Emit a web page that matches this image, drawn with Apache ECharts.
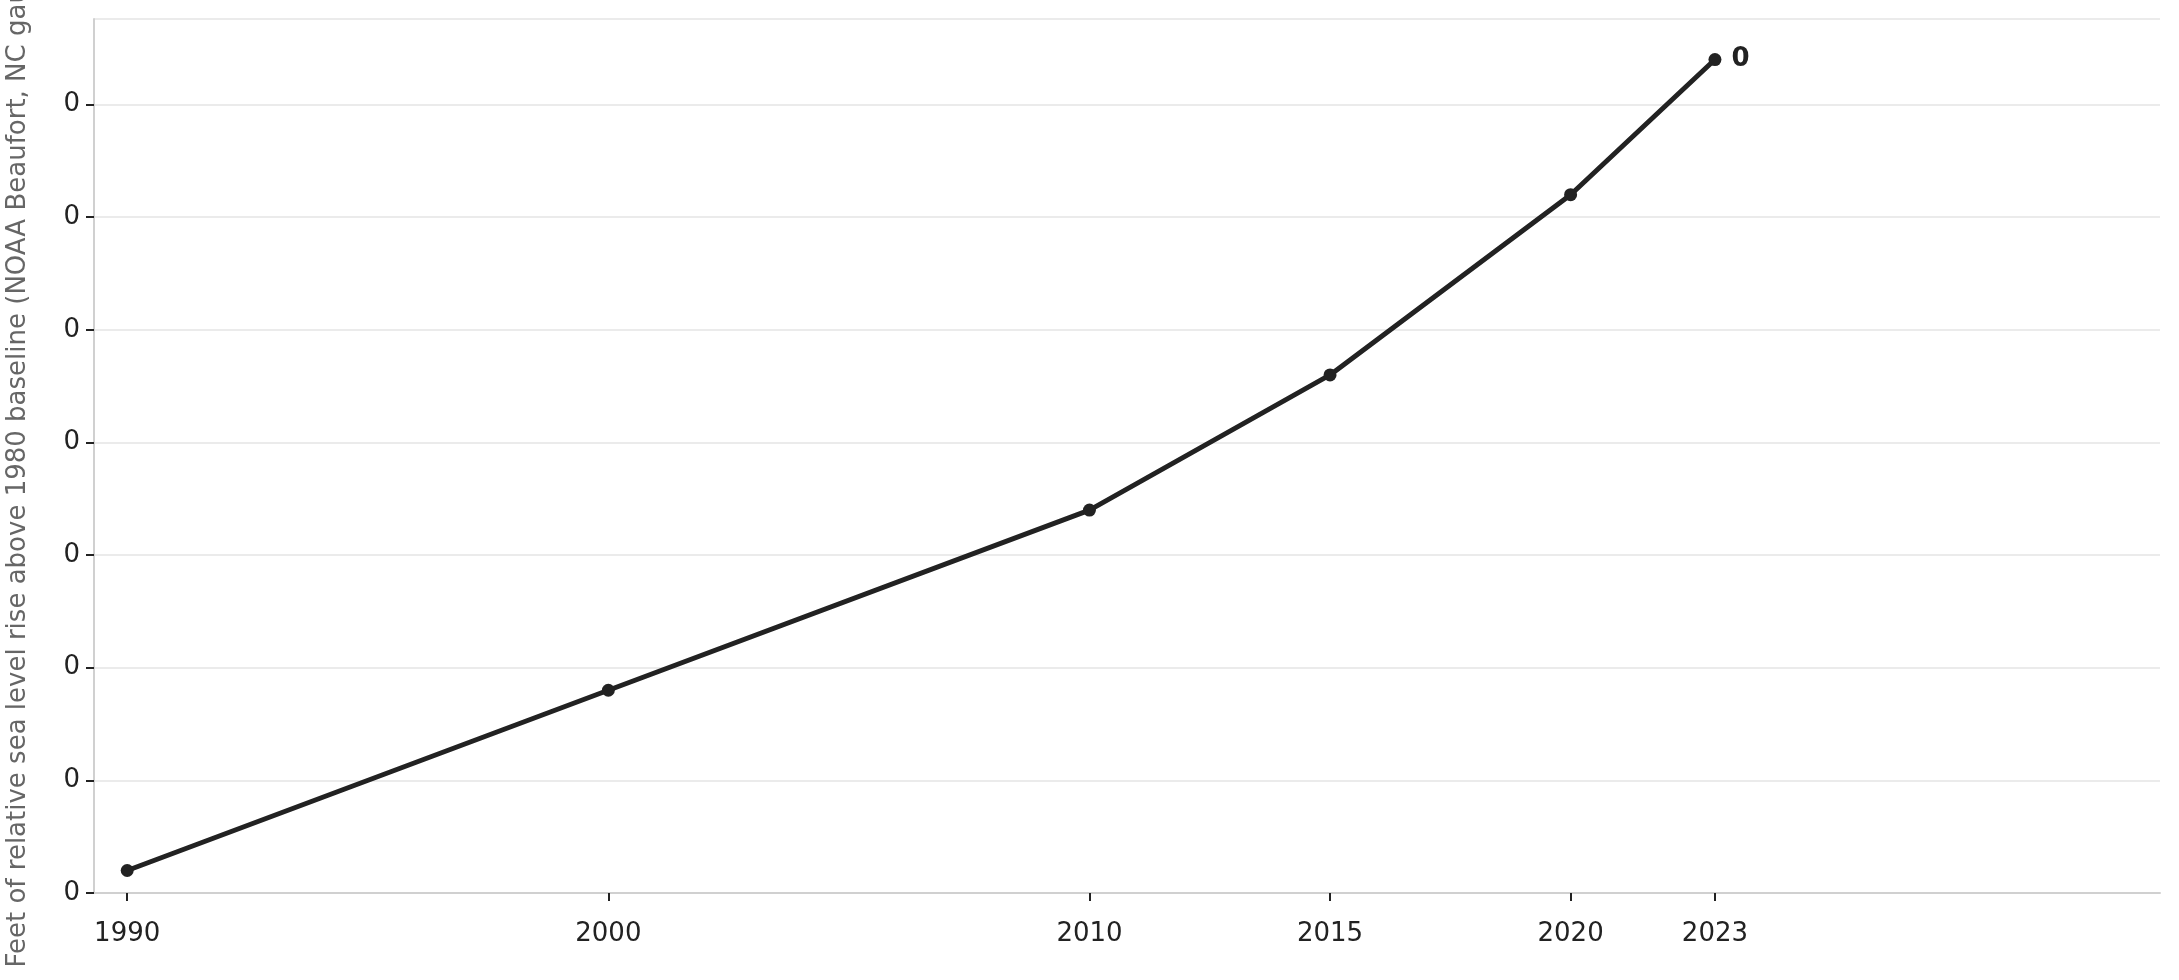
<!DOCTYPE html>
<html>
<head>
<meta charset="utf-8">
<script src="https://cdn.jsdelivr.net/npm/echarts@6/dist/echarts.min.js"></script>
<style>html,body{margin:0;padding:0;background:#fff}#chart{width:2179px;height:980px}</style>
</head>
<body>
<div id="chart"></div>
<script>
// years and sea level rise (ft)
var years = [1990, 2000, 2010, 2015, 2020, 2023];
var rise = [0.01, 0.09, 0.17, 0.23, 0.31, 0.37];

var myChart = echarts.init(document.getElementById("chart"));
var points = years.map(function (y, i) { return [y, rise[i]]; });

var option = {
  animation: false,
  grid: { left: 94, right: 19, top: 19, bottom: 87, outerBoundsMode: "none", containLabel: false },
  xAxis: {
    type: "value",
    min: 1989.31,
    max: 2032.25,
    offset: 18,
    axisLine: { lineStyle: { color: "#d0d0d0", width: 2 } },
    axisTick: { show: true, customValues: years, length: 8, lineStyle: { color: "#222", width: 2 } },
    axisLabel: {
      customValues: years, color: "#222", fontSize: 26, fontFamily: "DejaVu Sans", margin: 10,
      formatter: function (v) { return String(v); }
    },
    splitLine: { show: false }
  },
  yAxis: {
    type: "value",
    min: 0,
    max: 0.388,
    interval: 0.05,
    name: "Feet of relative sea level rise above 1980 baseline (NOAA Beaufort, NC gauge)",
    nameLocation: "middle",
    nameGap: 63,
    nameTextStyle: { color: "#666", fontSize: 26, fontFamily: "DejaVu Sans" },
    axisLine: { show: true, lineStyle: { color: "#d0d0d0", width: 2 } },
    axisTick: { show: true, length: 8, lineStyle: { color: "#222", width: 2 } },
    axisLabel: {
      color: "#222", fontSize: 26, fontFamily: "DejaVu Sans", margin: 14,
      showMaxLabel: false,
      formatter: function (v) { return v.toFixed(0); }
    },
    splitLine: { lineStyle: { color: "#ebebeb", width: 2 } }
  },
  series: [{
    type: "line",
    data: points,
    symbol: "circle",
    symbolSize: 13,
    lineStyle: { color: "#222", width: 5 },
    itemStyle: { color: "#222" },
    label: {
      show: true,
      formatter: function (p) { return p.dataIndex === years.length - 1 ? p.value[1].toFixed(0) : ""; },
      position: "right",
      distance: 10,
      color: "#222",
      fontWeight: "bold",
      fontSize: 26,
      fontFamily: "DejaVu Sans"
    }
  }]
};
myChart.setOption(option);
</script>
</body>
</html>
